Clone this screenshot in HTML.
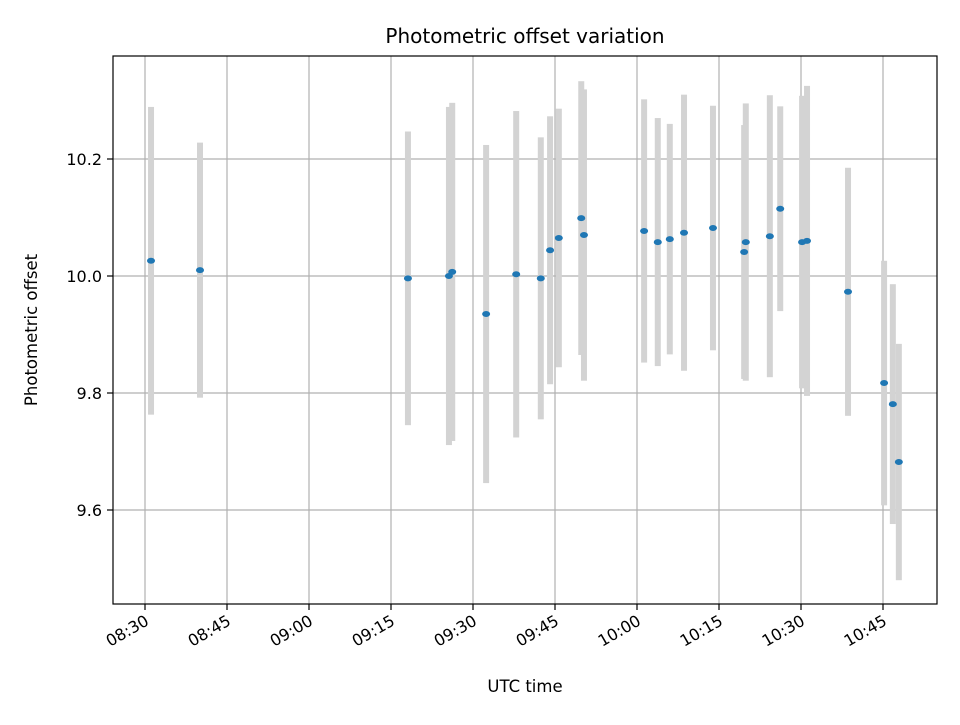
<!DOCTYPE html>
<html><head><meta charset="utf-8"><style>
body{margin:0;background:#fff}
svg text{font-family:"DejaVu Sans","Liberation Sans",sans-serif;fill:#000}
</style></head><body>
<svg id="chart" width="960" height="720" viewBox="0 0 960 720" xmlns="http://www.w3.org/2000/svg">
<rect width="960" height="720" fill="#fff"/>
<g id="grid"></g>
<g id="bars"></g>
<g id="dots"></g>
<rect x="113" y="56" width="824" height="548" fill="none" stroke="#000" stroke-width="1.2"/>
<g id="ticks"></g>
<text x="525" y="43" font-size="20" text-anchor="middle">Photometric offset variation</text>
<text x="525" y="692" font-size="16.5" text-anchor="middle">UTC time</text>
<text x="37" y="330" font-size="16.5" text-anchor="middle" transform="rotate(-90 37 330)">Photometric offset</text>
</svg>
<script>
// minutes after 08:30
const times=[1.1,10.06,48.1,55.6,56.2,62.4,67.9,72.4,74.1,75.7,79.8,80.3,91.3,93.8,96.0,98.6,103.9,109.6,109.9,114.3,116.2,120.2,121.1,128.6,135.2,136.8,137.9];
const offsets=[10.026,10.010,9.996,10.000,10.007,9.935,10.003,9.996,10.044,10.065,10.099,10.070,10.077,10.058,10.063,10.074,10.082,10.041,10.058,10.068,10.115,10.058,10.060,9.973,9.817,9.781,9.682];
const errors=[0.263,0.218,0.251,0.289,0.289,0.289,0.279,0.241,0.229,0.221,0.234,0.249,0.225,0.212,0.197,0.236,0.209,0.217,0.237,0.241,0.175,0.25,0.265,0.212,0.209,0.205,0.202];
const xTickLabels=["08:30","08:45","09:00","09:15","09:30","09:45","10:00","10:15","10:30","10:45"];
const xTickMinutes=[0,15,30,45,60,75,90,105,120,135];
const yTicks=[9.6,9.8,10.0,10.2];
const yTickLabels=["9.6","9.8","10.0","10.2"];
const NS="http://www.w3.org/2000/svg";
const X=t=>145+t*82/15;
const Y=v=>276-(v-10)*585;
function mk(tag,attrs,parent,txt){const e=document.createElementNS(NS,tag);for(const k in attrs)e.setAttribute(k,attrs[k]);if(txt!==undefined)e.textContent=txt;document.getElementById(parent).appendChild(e);return e;}
xTickMinutes.forEach((m,i)=>{const x=X(m);
 const g=mk('line',{x1:x,x2:x,y1:56,y2:604,stroke:'#b0b0b0','stroke-width':1.2},'grid');
 
 const t=mk('line',{x1:x,x2:x,y1:604,y2:610,stroke:'#000','stroke-width':1.2},'ticks');
 
 const l=mk('text',{x:x+5,y:624,'font-size':16,'text-anchor':'end',transform:`rotate(-30 ${x+5} 624)`},'ticks',xTickLabels[i]);
 
});
yTicks.forEach((v,i)=>{const y=Y(v);
 const g=mk('line',{x1:113,x2:937,y1:y,y2:y,stroke:'#b0b0b0','stroke-width':1.2},'grid');
 
 const t=mk('line',{x1:107,x2:113,y1:y,y2:y,stroke:'#000','stroke-width':1.2},'ticks');
 
 const l=mk('text',{x:102,y:y+6,'font-size':16,'text-anchor':'end'},'ticks',yTickLabels[i]);
 
});
times.forEach((t,i)=>{const x=X(t);
 const b=mk('rect',{x:x-3,y:Y(offsets[i]+errors[i]),width:6,height:Y(offsets[i]-errors[i])-Y(offsets[i]+errors[i]),fill:'#d3d3d3'},'bars');
 
 const d=mk('ellipse',{cx:x,cy:Y(offsets[i]),rx:4,ry:3,fill:'#1f77b4'},'dots');
 
});
</script>
</body></html>
